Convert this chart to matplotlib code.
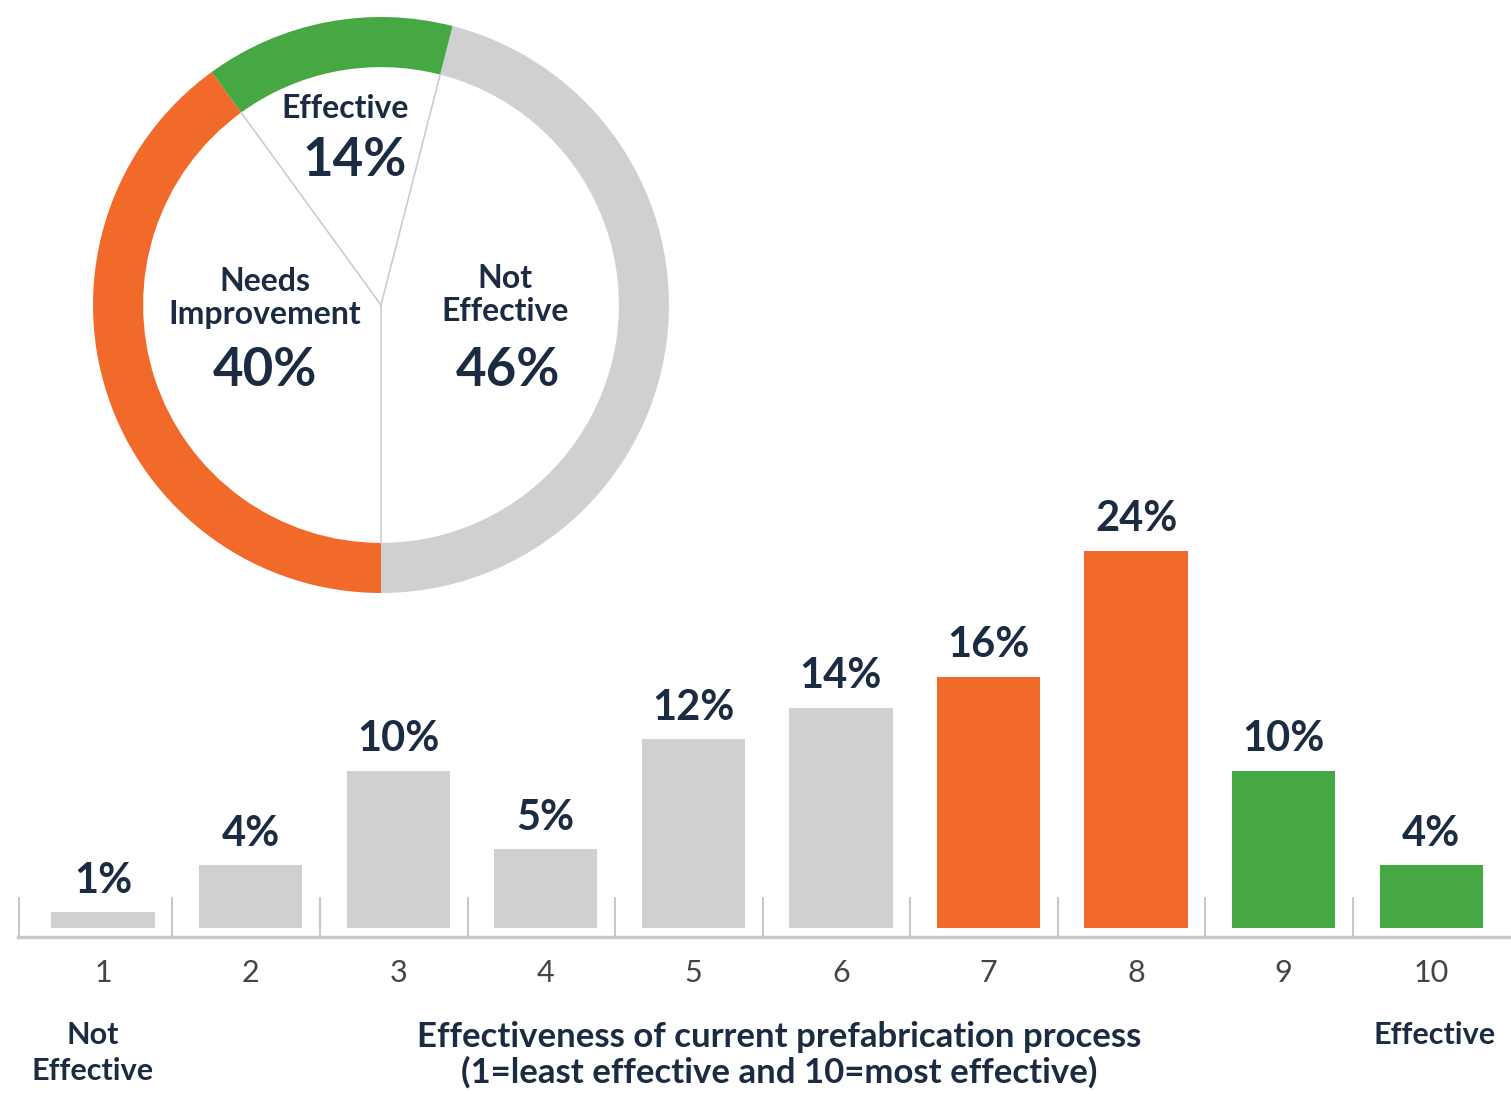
import numpy as np
import matplotlib.pyplot as plt

# donut shares
ring_labels = ['Not\nEffective', 'Needs\nImprovement', 'Effective']
ring_values = [46, 40, 14]

# bar chart: rating 1-10 and share of responses
ratings = ['1', '2', '3', '4', '5', '6', '7', '8', '9', '10']
shares = [1, 4, 10, 5, 12, 14, 16, 24, 10, 4]
groups = ['not', 'not', 'not', 'not', 'not', 'not', 'needs', 'needs', 'eff', 'eff']

GRAY = '#d0d0d2'
ORANGE = '#f26a2a'
GREEN = '#46a843'
NAVY = '#1b2c42'
colors = {'not': GRAY, 'needs': ORANGE, 'eff': GREEN}

plt.rcParams['font.family'] = ['Lato', 'DejaVu Sans']

W, H = 1511, 1094
fig = plt.figure(figsize=(W / 100, H / 100), dpi=100)

# ---- bars ----
ax2 = fig.add_axes([18 / W, 1 - 937 / H, (W - 18) / W, (937 - 480) / H])
ax2.set_facecolor('none')
x = np.arange(1, len(ratings) + 1)
ax2.bar(x, shares, width=0.70, color=[colors[g] for g in groups], bottom=0)
for xi, v in zip(x, shares):
    ax2.text(xi, v + 0.8, '%d%%' % v, ha='center', va='bottom', fontsize=30,
             fontweight='bold', color=NAVY)

ax2.set_xlim(0.424, 10.54)
ax2.set_ylim(-0.57, 28.5)
ax2.axhline(-0.57, color='#c8c8c8', lw=2.5, clip_on=False)
ax2.vlines(np.r_[0.43, np.arange(1, 10) + 0.47], -0.57, 2.0, color='#c8c8c8', lw=1.5)
for s in ax2.spines.values():
    s.set_visible(False)
ax2.set_yticks([])
ax2.set_xticks(x)
ax2.set_xticklabels(ratings, fontsize=22, color='#444444', fontweight='normal')
ax2.tick_params(axis='x', length=0, pad=16)

# ---- donut ----
ax1 = fig.add_axes([93 / W, 1 - 593 / H, 576 / W, 576 / H])
ax1.set_facecolor('none')
wedges, _ = ax1.pie(ring_values, colors=[GRAY, ORANGE, GREEN], startangle=75.6,
                    counterclock=False, radius=1.0,
                    wedgeprops=dict(width=0.174, linewidth=0))
ax1.set_xlim(-1, 1)
ax1.set_ylim(-1, 1)
ax1.set_aspect('equal')
ax1.axis('off')

# thin divider lines inside the ring
inner = 1 - 0.174
for w in wedges:
    ang = np.deg2rad(w.theta1)
    ax1.plot([0, inner * np.cos(ang)], [0, inner * np.sin(ang)], color='#c9cdd2', lw=1.2)

ax1.text(-0.125, 0.684, 'Effective', ha='center', va='center', fontsize=23,
         fontweight='bold', color=NAVY)
ax1.text(-0.09, 0.50, '%d%%' % ring_values[2], ha='center', va='center', fontsize=38,
         fontweight='bold', color=NAVY)
ax1.text(-0.403, 0.025, 'Needs\nImprovement', ha='center', va='center', fontsize=23,
         fontweight='bold', color=NAVY, linespacing=1.15)
ax1.text(-0.403, -0.226, '%d%%' % ring_values[1], ha='center', va='center', fontsize=38,
         fontweight='bold', color=NAVY)
ax1.text(0.43, 0.035, 'Not\nEffective', ha='center', va='center', fontsize=23,
         fontweight='bold', color=NAVY, linespacing=1.15)
ax1.text(0.44, -0.226, '%d%%' % ring_values[0], ha='center', va='center', fontsize=38,
         fontweight='bold', color=NAVY)

# bottom captions
fig.text(93 / W, 1 - 1053 / H, 'Not\nEffective', ha='center', va='center', fontsize=22,
         fontweight='bold', color=NAVY, linespacing=1.35)
fig.text(1435 / W, 1 - 1035 / H, 'Effective', ha='center', va='center', fontsize=22,
         fontweight='bold', color=NAVY)
fig.text(779 / W, 1 - 1055 / H,
         'Effectiveness of current prefabrication process\n(1=least effective and 10=most effective)',
         ha='center', va='center', fontsize=25, fontweight='bold', color=NAVY,
         linespacing=1.1)

fig.savefig('out.png', dpi=100, facecolor='white')
